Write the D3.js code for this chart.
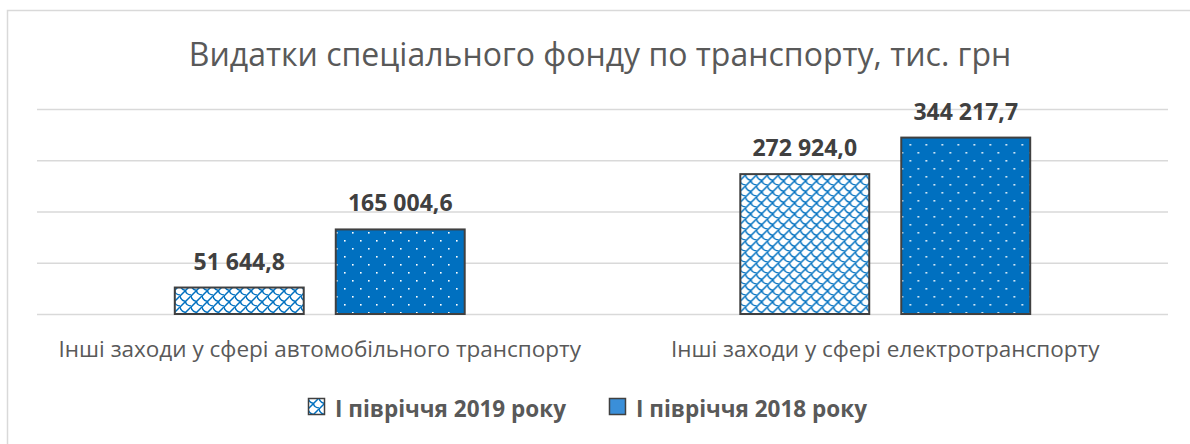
<!DOCTYPE html>
<html>
<head>
<meta charset="utf-8">
<script src="https://cdn.jsdelivr.net/npm/d3@7"></script>
<style>
  body { margin: 0; background: #fff; }
  text { font-family: "Open Sans", "Noto Sans", sans-serif; }
</style>
</head>
<body>
<div id="chart"></div>
<script>
// data
var categories = ["Інші заходи у сфері автомобільного транспорту", "Інші заходи у сфері електротранспорту"];
var seriesNames = ["І півріччя 2019 року", "І півріччя 2018 року"];
var values2019 = [51644.8, 272924.0];
var values2018 = [165004.6, 344217.7];
var yTicks = [0, 100000, 200000, 300000, 400000];
var title = "Видатки спеціального фонду по транспорту, тис. грн";

var W = 1190, H = 444;
var margin = { top: 109, right: 22, bottom: 130, left: 37 },
  width = W - margin.left - margin.right,
  height = H - margin.top - margin.bottom;

var svg = d3.select("#chart").append("svg").attr("width", W).attr("height", H);

// fill patterns
var defs = svg.append("defs");
var shingle = defs.append("pattern")
  .attr("id", "shingle").attr("patternUnits", "userSpaceOnUse")
  .attr("width", 11).attr("height", 11);
shingle.append("rect").attr("width", 11).attr("height", 11).attr("fill", "#fff");
shingle.append("path")
  .attr("d", "M-1,12 L12,-1 M5.5,5.5 Q6,9.5 11,10 M0,0 Q0.5,4 5.5,5.5")
  .attr("stroke", "#0070c0").attr("stroke-width", 1.5).attr("fill", "none");

var dots = defs.append("pattern")
  .attr("id", "dots").attr("patternUnits", "userSpaceOnUse")
  .attr("width", 16).attr("height", 16);
dots.append("rect").attr("width", 16).attr("height", 16).attr("fill", "#0070c0");
dots.append("rect").attr("x", 3).attr("y", 3).attr("width", 1.6).attr("height", 1.6).attr("fill", "#fff");
dots.append("rect").attr("x", 11).attr("y", 11).attr("width", 1.6).attr("height", 1.6).attr("fill", "#fff");

var fills = ["url(#shingle)", "url(#dots)"];

// chart frame
svg.append("rect")
  .attr("x", 7.5).attr("y", 10.5).attr("width", 1186).attr("height", 460)
  .attr("fill", "none").attr("stroke", "#d9d9d9").attr("stroke-width", 1.5);

// title
svg.append("text")
  .attr("x", 600).attr("y", 66)
  .attr("text-anchor", "middle")
  .style("font-size", "32px").style("fill", "#595959")
  .text(title);

var g = svg.append("g").attr("transform", "translate(" + margin.left + "," + margin.top + ")");

var x = d3.scaleBand().domain(categories).range([0, width]).padding(0);
var xSub = d3.scaleBand().domain(seriesNames).range([0, x.bandwidth()])
  .paddingInner(0.199).paddingOuter(0.856);
var y = d3.scaleLinear().domain([0, 400000]).range([height, 0]);

// gridlines
g.append("g")
  .call(d3.axisLeft(y).tickValues(yTicks).tickSize(-width).tickFormat(""))
  .call(function (a) {
    a.select(".domain").remove();
    a.selectAll("line").attr("stroke", "#d9d9d9").attr("stroke-width", 1.6);
  });

var rows = categories.map(function (c, i) {
  return { cat: c, vals: [values2019[i], values2018[i]] };
});

var fmt = d3.formatLocale({ decimal: ",", thousands: " ", grouping: [3], currency: ["", ""] }).format(",.1f");

var groups = g.selectAll(".grp").data(rows).enter().append("g")
  .attr("transform", function (d) { return "translate(" + x(d.cat) + ",0)"; });

groups.selectAll("rect").data(function (d) {
  return d.vals.map(function (v, j) { return { s: seriesNames[j], v: v, j: j }; });
}).enter().append("rect")
  .attr("x", function (d) { return xSub(d.s); })
  .attr("y", function (d) { return y(d.v); })
  .attr("width", xSub.bandwidth())
  .attr("height", function (d) { return height - y(d.v); })
  .attr("fill", function (d) { return fills[d.j]; })
  .attr("stroke", "#404040").attr("stroke-width", 2);

groups.selectAll(".lbl").data(function (d) {
  return d.vals.map(function (v, j) { return { s: seriesNames[j], v: v }; });
}).enter().append("text")
  .attr("x", function (d) { return xSub(d.s) + xSub.bandwidth() / 2; })
  .attr("y", function (d) { return y(d.v) - 18; })
  .attr("text-anchor", "middle")
  .style("font-size", "23px").style("font-weight", "bold").style("fill", "#404040")
  .text(function (d) { return fmt(d.v); });

// category labels
g.append("g")
  .attr("transform", "translate(0," + height + ")")
  .call(d3.axisBottom(x).tickSize(0).tickPadding(0))
  .call(function (a) {
    a.select(".domain").remove();
    a.selectAll("text").attr("dy", 0).attr("y", 43)
      .style("font-size", "22.5px").style("fill", "#595959")
      .style("font-family", "'Open Sans', sans-serif");
  });

// legend
var legend = svg.append("g").attr("transform", "translate(308,398)");
var lx = 0;
seriesNames.forEach(function (s, i) {
  var item = legend.append("g").attr("transform", "translate(" + lx + ",0)");
  item.append("rect").attr("x", 0.5).attr("y", 0.5).attr("width", 16).attr("height", 16)
    .attr("fill", i === 0 ? fills[0] : "#3a8fd9").attr("stroke", "#404040").attr("stroke-width", 1.5);
  var t = item.append("text").attr("x", 27).attr("y", 18.5)
    .style("font-size", "22.5px").style("font-weight", "bold").style("fill", "#595959")
    .text(s);
  lx += 27 + t.node().getComputedTextLength() + 43;
});
</script>
</body>
</html>
